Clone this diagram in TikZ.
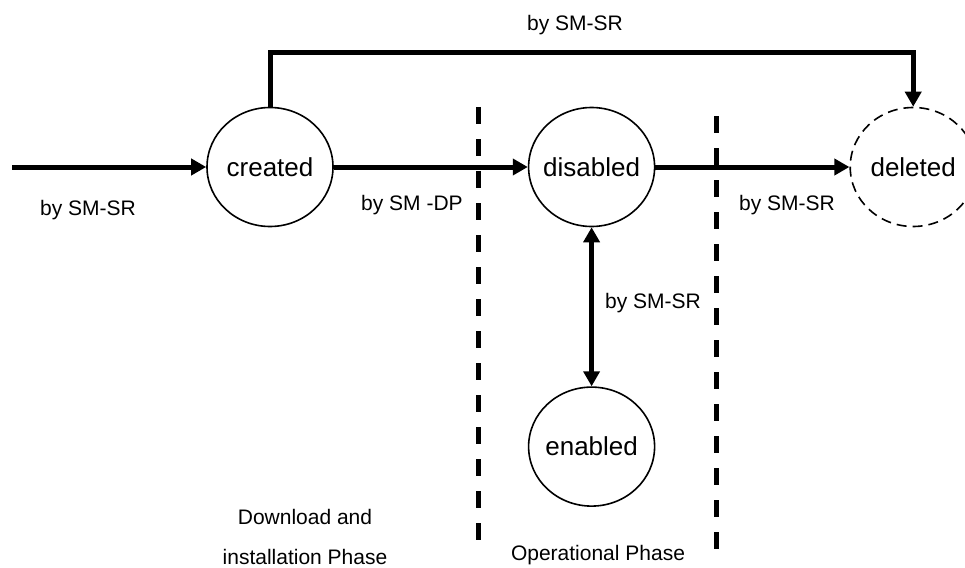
\documentclass[tikz,border=0pt]{standalone}
\usepackage{fontspec}
\setmainfont{Liberation Sans}
\usetikzlibrary{positioning, chains, shapes.geometric, arrows.meta}

\begin{document}
\begin{tikzpicture}[x=1pt, y=-1pt,
    state/.style={ellipse, draw, line width=1.6pt, minimum width=126pt,
      minimum height=119pt, inner xsep=-30pt, inner ysep=0pt,
      font=\fontsize{26}{30}\selectfont},
    lbl/.style={font=\fontsize{21}{25}\selectfont, inner sep=0pt},
    flow/.style={line width=5pt},
    phase/.style={line width=5pt, dash pattern=on 17pt off 15pt},
    >={Triangle[length=15pt,width=16pt]},
    node distance=194pt, start chain]

    \useasboundingbox (0,0) rectangle (965,567);

    \node[state,on chain] (created) at (270,167) {created};
    \node[state,on chain] (disabled) {disabled};
    \node[state,on chain,dash pattern=on 10pt off 6pt] (deleted) {deleted};
    \node[state,below=159pt of disabled] (enabled) {enabled};
    \coordinate (entry) at (12,167);

    % phase borders
    \draw[phase] (478,107) -- (478,548);
    \draw[phase] (716,116) -- (716,557);

    \draw[flow,->] (entry) -- (created);
    \draw[flow,->] (created) -- (disabled);
    \draw[flow,->] (disabled) -- (deleted);
    \draw[flow,<->] (disabled) -- (enabled);
    \draw[flow,->] (created.north) -- ++(0,-54) -| (deleted.north);

    \node[lbl] (l-entry) at (88,210) {by SM-SR};
    \node[lbl] (l-top) at (575,25) {by SM-SR};
    \node[lbl] (l-dp) at (412,205) {by SM -DP};
    \node[lbl] (l-del) at (787,205) {by SM-SR};
    \node[lbl] (l-en) at (653,303) {by SM-SR};
    \node[lbl,align=center,font=\fontsize{21}{40}\selectfont] (dl) at (305,537)
      {Download and\\installation Phase};
    \node[lbl] (op) at (598,555) {Operational Phase};
\end{tikzpicture}
\end{document}
